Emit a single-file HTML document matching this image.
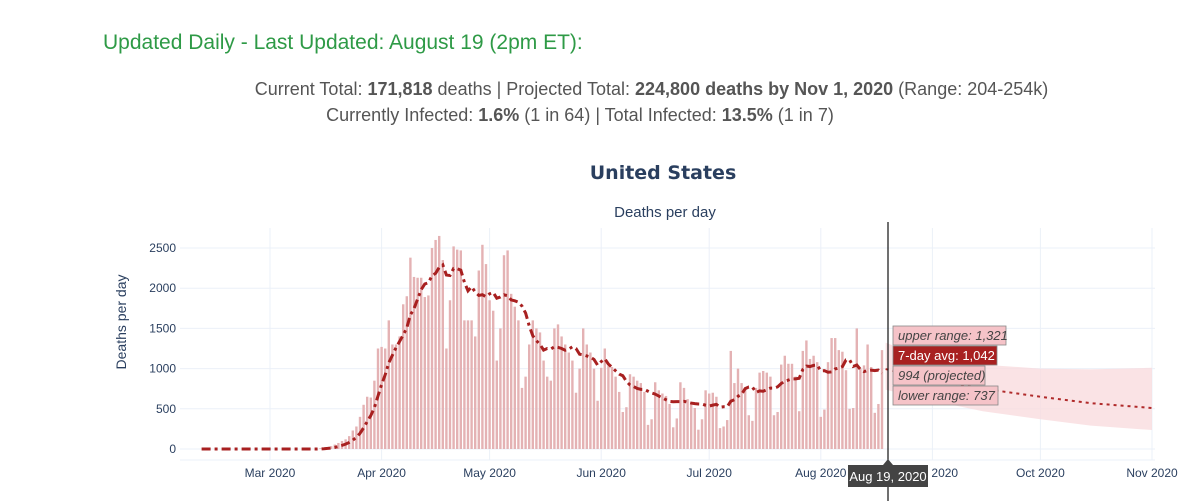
<!DOCTYPE html>
<html><head><meta charset="utf-8"><style>
body{margin:0;width:1200px;height:501px;overflow:hidden;background:#fff;font-family:"Liberation Sans",sans-serif}
.t{position:absolute;white-space:nowrap}
</style></head><body>
<div class="t" style="left:103px;top:31px;font-size:21px;color:#2e9a46">Updated Daily - Last Updated: August 19 (2pm ET):</div>
<div class="t" style="left:0;width:1303px;text-align:center;top:79px;font-size:18px;color:#555">Current Total: <b>171,818</b> deaths | Projected Total: <b>224,800 deaths by Nov 1, 2020</b> (Range: 204-254k)</div>
<div class="t" style="left:0;width:1160px;text-align:center;top:105px;font-size:18px;color:#555">Currently Infected: <b>1.6%</b> (1 in 64) | Total Infected: <b>13.5%</b> (1 in 7)</div>
<svg id="c" width="1200" height="501" style="position:absolute;left:0;top:0" font-family="Liberation Sans, sans-serif"></svg>
<script>
const monthTicks=["Mar 2020","Apr 2020","May 2020","Jun 2020","Jul 2020","Aug 2020","Sep 2020","Oct 2020","Nov 2020"];
const monthDays=[0,31,61,92,122,153,184,214,245];
const yTicks=[0,500,1000,1500,2000,2500];
const startDay=-19; // Feb 10
const dailyDeaths=[0,0,0,0,0,0,0,0,0,0,0,0,0,0,0,0,0,0,0, 0,0,0,0,0,0,0,0,0,0,0,0,0,0,
10,15,25,35,55,75,100,120,160,230,280,400,550,650,640,850,1250,
1270,1250,1600,1300,1300,1400,1800,1900,2380,2140,2130,2130,1890,1910,2500,2600,2650,2350,1250,1850,2520,2480,2470,1600,1600,1600,1400,2220,2540,2300,
1850,1720,1100,1500,2410,2470,1930,1770,1600,760,900,1300,1600,1500,1450,1100,900,850,1500,1550,1400,1300,1200,1100,700,1000,1500,1300,1200,1000,600,
1010,1250,1030,1020,900,710,460,520,930,900,850,820,710,300,370,830,730,690,660,560,270,380,830,760,620,580,510,240,370,730,
690,700,650,260,280,360,1220,820,1000,820,760,420,350,760,950,970,950,900,420,460,1050,1160,1060,1060,900,470,1220,1350,1120,1160,1080,
400,490,1080,1380,1380,1230,1210,980,500,510,1500,1000,1040,1300,1020,450,560,1230];
const projDays=[171,184,198,214,228,245];
const projMid=[994,860,750,650,570,510];
const projUp=[1321,1120,1050,1000,990,1010];
const projLo=[737,600,470,370,290,236];

const svg=document.getElementById('c');const NS='http://www.w3.org/2000/svg';
const X=d=>270+d*3.6, Y=v=>449-v*0.0804;
function mk(t,a,p){const e=document.createElementNS(NS,t);for(const k in a)e.setAttribute(k,a[k]);(p||svg).appendChild(e);return e;}
function tx(s,a){const e=mk('text',a);e.textContent=s;return e;}
let e;
e=tx('United States',{x:663,y:179,'text-anchor':'middle','font-size':19,'font-weight':'bold',fill:'#2a3f5f','font-family':'DejaVu Sans, sans-serif'});


e=tx('Deaths per day',{x:665,y:217,'text-anchor':'middle','font-size':15,fill:'#2a3f5f'});


e=tx('Deaths per day',{x:0,y:0,transform:'translate(126,322) rotate(-90)','text-anchor':'middle','font-size':14,fill:'#2a3f5f'});


yTicks.forEach(v=>{
 e=mk('line',{x1:180,x2:1155,y1:Y(v),y2:Y(v),stroke:'#ebf0f8'});
 
 
 e=tx(String(v),{x:176,y:Y(v)+4,'text-anchor':'end','font-size':12,fill:'#2a3f5f'});
 
 
});
mk('line',{x1:180,x2:1155,y1:460,y2:460,stroke:'#ebf0f8'});
monthTicks.forEach((m,i)=>{
 e=mk('line',{x1:X(monthDays[i]),x2:X(monthDays[i]),y1:228,y2:460,stroke:'#ebf0f8'});
 
 
 e=tx(m,{x:X(monthDays[i]),y:477,'text-anchor':'middle','font-size':12,fill:'#2a3f5f'});
 
 
});
let pts=projDays.map((d,i)=>X(d)+','+Y(projUp[i])).concat(projDays.slice().reverse().map((d,j)=>{const i=projDays.length-1-j;return X(d)+','+Y(projLo[i]);}));
e=mk('polygon',{points:pts.join(' '),fill:'#f9dcdf',opacity:0.8});


dailyDeaths.forEach((v,i)=>{if(v<=0)return;const d=startDay+i;
 e=mk('rect',{x:X(d)-1.2,y:Y(v),width:2.4,height:449-Y(v),fill:'#e4b2b4'});
 
 
});
const avg=dailyDeaths.map((v,i)=>{const s=dailyDeaths.slice(Math.max(0,i-6),i+1);return s.reduce((a,b)=>a+b,0)/s.length;});
e=mk('polyline',{points:avg.map((v,i)=>X(startDay+i)+','+Y(v)).join(' '),fill:'none',stroke:'#a82020','stroke-width':3,'stroke-dasharray':'9,4,3,4'});


e=mk('polyline',{points:projDays.map((d,i)=>X(d)+','+Y(projMid[i])).join(' '),fill:'none',stroke:'#b02a2a','stroke-width':2,'stroke-dasharray':'3,4'});


mk('line',{x1:888,x2:888,y1:222,y2:501,stroke:'#111','stroke-width':1.2});
e=mk('rect',{x:848,y:465,width:80,height:22,fill:'#444'});


mk('polygon',{points:'883,465 888,459 893,465',fill:'#444'});
tx('Aug 19, 2020',{x:888,y:481,'text-anchor':'middle','font-size':13,fill:'#fff'});
const labels=[['upper range: 1,321',326,113,'#f5c3c8','#444',true],['7-day avg: 1,042',346,104,'#a82020','#fff',false],['994 (projected)',366,92,'#f5c3c8','#444',true],['lower range: 737',386,105,'#f5c3c8','#444',true]];
labels.forEach(l=>{
 e=mk('rect',{x:893,y:l[1],width:l[2],height:19,fill:l[3],stroke:'#888','stroke-width':0.8});
 
 
 tx(l[0],{x:898,y:l[1]+14,'font-size':13,fill:l[4],'font-style':l[5]?'italic':'normal'});
});
</script>
</body></html>
